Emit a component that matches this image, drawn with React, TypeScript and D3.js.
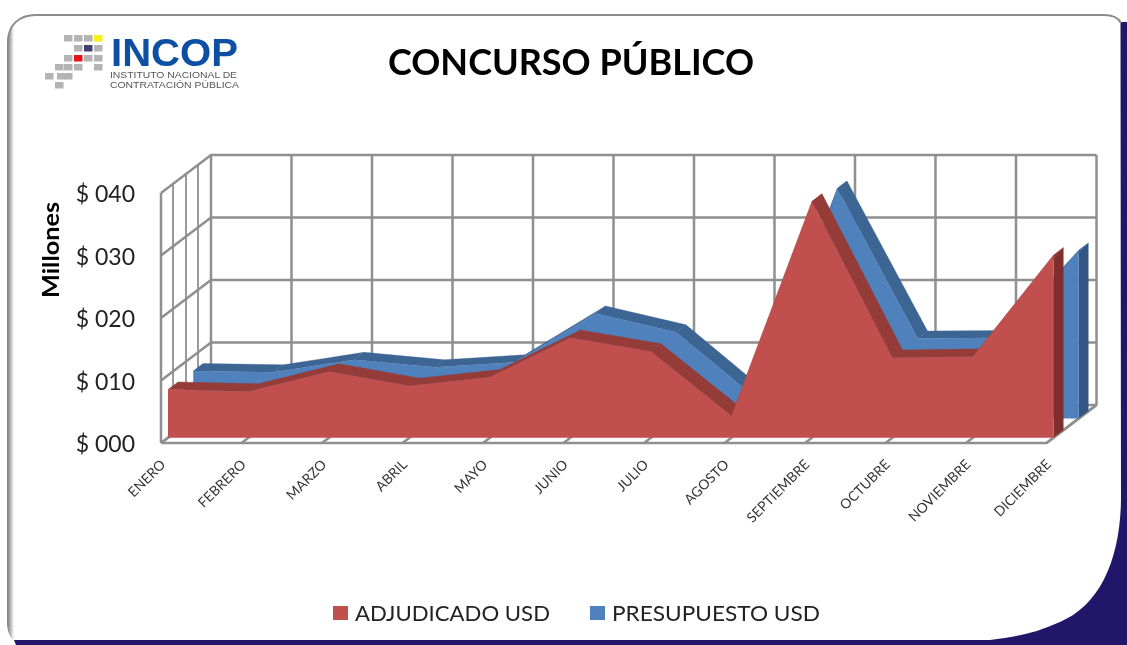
import React from "react";
import * as d3 from "d3";

const categories = ["ENERO","FEBRERO","MARZO","ABRIL","MAYO","JUNIO","JULIO","AGOSTO","SEPTIEMBRE","OCTUBRE","NOVIEMBRE","DICIEMBRE"];
const adjudicado = [7.7,7.4,10.6,8.3,9.7,16,13.8,3.5,37.8,12.8,13,29.2];
const presupuesto = [7.6,7.4,9.4,8.2,9,16.8,13.8,3.1,36.8,12.8,12.9,26.9];
const yTicks = [0,10,20,30,40];
const yTickLabels = ["$ 000","$ 010","$ 020","$ 030","$ 040"];
const depthLines = [0.24,0.5,0.74];
const logoGrey = [[64,35],[74,35],[84,35],[74,45],[94,45],[64,55],[84,55],[94,55],[55,64],[64,64],[74,64],[94,64],[45,73],[57,73],[64,73],[55,82]];
const logoColor: [number,number,string][] = [[94,35,"#f7ee1a"],[84,45,"#42406e"],[74,55,"#e0141e"]];

const GRID = "#8f8f8f";
const W = 1127, H = 645;

const xS = d3.scalePoint<string>().domain(categories).range([161,1046.5]);
const yS = d3.scaleLinear().domain([0,40]).range([443,193]);
const dX = d3.scaleLinear().domain([0,1]).range([0,50]);
const dY = d3.scaleLinear().domain([0,1]).range([0,-38]);
const line = d3.line<[number,number]>();
const px = (i:number,v:number,d:number):[number,number] => [xS(categories[i])! + dX(d), yS(v) + dY(d)];

function Series({vals,d0,d1,face,top,side}:{vals:number[];d0:number;d1:number;face:string;top:string;side:string}) {
  const area = d3.area<number>()
    .x((_,i)=>px(i,0,d0)[0])
    .y0(yS(0)+dY(d0))
    .y1((v)=>yS(v)+dY(d0));
  const n = vals.length-1;
  return (
    <g>
      <path d={line([px(n,0,d0),px(n,vals[n],d0),px(n,vals[n],d1),px(n,0,d1)])+"Z"} fill={side}/>
      {vals.slice(0,n).map((v,i)=>(
        <path key={i} d={line([px(i,v,d0),px(i+1,vals[i+1],d0),px(i+1,vals[i+1],d1),px(i,v,d1)])+"Z"} fill={top} stroke={top} strokeWidth={0.4}/>
      ))}
      <path d={area(vals)!} fill={face}/>
    </g>
  );
}

export default function App() {
  const font = "Lato, 'Open Sans', sans-serif";
  const outer = "M7 45 C7 26 18 14 36 14 L1104 14 C1113 14 1119 17 1122 24 L1122 500 L20 644 C12 642 7 634 7 622 Z";
  return (
    <svg width={W} height={H} viewBox={`0 0 ${W} ${H}`} style={{position:"absolute",left:0,top:0,display:"block",background:"#fff"}}>
      <defs>
        <filter id="soft" x="-5%" y="-5%" width="110%" height="110%"><feGaussianBlur stdDeviation="0.45"/></filter>
        <filter id="soft2" x="-5%" y="-5%" width="110%" height="110%"><feGaussianBlur stdDeviation="0.6"/></filter>
        <linearGradient id="edge" x1="0" x2="1" y1="0" y2="0">
          <stop offset="0" stopColor="#7d7d7d"/>
          <stop offset="0.35" stopColor="#a0a0a0"/>
          <stop offset="1" stopColor="#ffffff"/>
        </linearGradient>
        <clipPath id="outerClip"><path d={outer}/></clipPath>
      </defs>
      {/* frame */}
      <g filter="url(#soft)">
        <path d="M1127 22 L1127 645 L16 645 L14 640 L990 640 C1012 638 1036 633 1060 622 C1100 605 1120 560 1121 500 L1120.5 22 Z" fill="#21146a"/>
        <g clipPath="url(#outerClip)">
          <rect x={7} y={14} width={7} height={632} fill="url(#edge)"/>
        </g>
        <path d="M8 42 C8 25 19 15 36 15 L1104 15 C1112 15 1118 17 1121 23" fill="none" stroke="#8c8c8c" strokeWidth={2}/>
      </g>
      {/* logo */}
      <g filter="url(#soft2)">
        {logoGrey.map(([x,y],i)=><rect key={i} x={x} y={y} width={8.5} height={6.5} fill="#b4b4b4"/>)}
        {logoColor.map(([x,y,c],i)=><rect key={i} x={x} y={y} width={8.5} height={6.5} fill={c}/>)}
        <text x={111} y={66} fontFamily="'Liberation Sans', Arial, sans-serif" fontWeight={700} fontSize={39} fill="#0b50a3" textLength={127} lengthAdjust="spacingAndGlyphs">INCOP</text>
        <text x={110} y={78} fontFamily="'Liberation Sans', sans-serif" fontSize={8.5} fill="#555" textLength={127} lengthAdjust="spacingAndGlyphs">INSTITUTO NACIONAL DE</text>
        <text x={110} y={88} fontFamily="'Liberation Sans', sans-serif" fontSize={8.5} fill="#555" textLength={129} lengthAdjust="spacingAndGlyphs">CONTRATACIÓN PÚBLICA</text>
      </g>
      <g filter="url(#soft)">
        {/* title */}
        <text x={571} y={75} textAnchor="middle" fontFamily={font} fontWeight={700} fontSize={36} fill="#000" textLength={366} lengthAdjust="spacingAndGlyphs">CONCURSO PÚBLICO</text>
        {/* grid */}
        <g stroke={GRID} strokeWidth={2.5} fill="none">
          {yTicks.map((t)=>(
            <path key={t} d={line([[xS(categories[0])!,yS(t)],[xS(categories[0])!+dX(1),yS(t)+dY(1)],[xS(categories[11])!+dX(1),yS(t)+dY(1)]])!}/>
          ))}
          <path d={line([[xS(categories[0])!,yS(0)],[xS(categories[11])!,yS(0)],[xS(categories[11])!+dX(1),yS(0)+dY(1)]])!}/>
          <path d={line([[xS(categories[0])!,yS(0)],[xS(categories[0])!,yS(40)]])!}/>
          {depthLines.map((d)=>(
            <path key={d} strokeWidth={1.8} d={line([[xS(categories[0])!+dX(d),yS(0)+dY(d)],[xS(categories[0])!+dX(d),yS(40)+dY(d)]])!}/>
          ))}
          {categories.map((c)=>(
            <g key={c}>
              <path d={line([[xS(c)!,yS(0)],[xS(c)!+dX(1),yS(0)+dY(1)]])!}/>
              <path d={line([[xS(c)!+dX(1),yS(0)+dY(1)],[xS(c)!+dX(1),yS(40)+dY(1)]])!}/>
            </g>
          ))}
        </g>
        {/* series */}
        <Series vals={presupuesto} d0={0.645} d1={0.84} face="#4f81bd" top="#3e6594" side="#305681"/>
        <Series vals={adjudicado} d0={0.14} d1={0.34} face="#c0504d" top="#953b39" side="#7f2f2e"/>
        {/* y axis */}
        {yTicks.map((t,i)=>(
          <text key={t} x={135} y={yS(t)+9} textAnchor="end" fontFamily={font} fontSize={23} fill="#222">{yTickLabels[i]}</text>
        ))}
        <text transform="translate(59,250) rotate(-90)" textAnchor="middle" fontFamily={font} fontWeight={700} fontSize={22} fill="#000" textLength={96} lengthAdjust="spacingAndGlyphs">Millones</text>
        {/* x axis */}
        {categories.map((c)=>(
          <text key={c} transform={`translate(${xS(c)!+2},${462}) rotate(-45)`} textAnchor="end" fontFamily={font} fontSize={13.8} fill="#333" dy="0.35em">{c}</text>
        ))}
        {/* legend */}
        <rect x={333} y={606} width={15} height={14} fill="#c0504d"/>
        <text x={355} y={621} fontFamily={font} fontSize={22} fill="#222" textLength={195} lengthAdjust="spacingAndGlyphs">ADJUDICADO USD</text>
        <rect x={590} y={606} width={15} height={14} fill="#4f81bd"/>
        <text x={612} y={621} fontFamily={font} fontSize={22} fill="#222" textLength={208} lengthAdjust="spacingAndGlyphs">PRESUPUESTO USD</text>
      </g>
    </svg>
  );
}
